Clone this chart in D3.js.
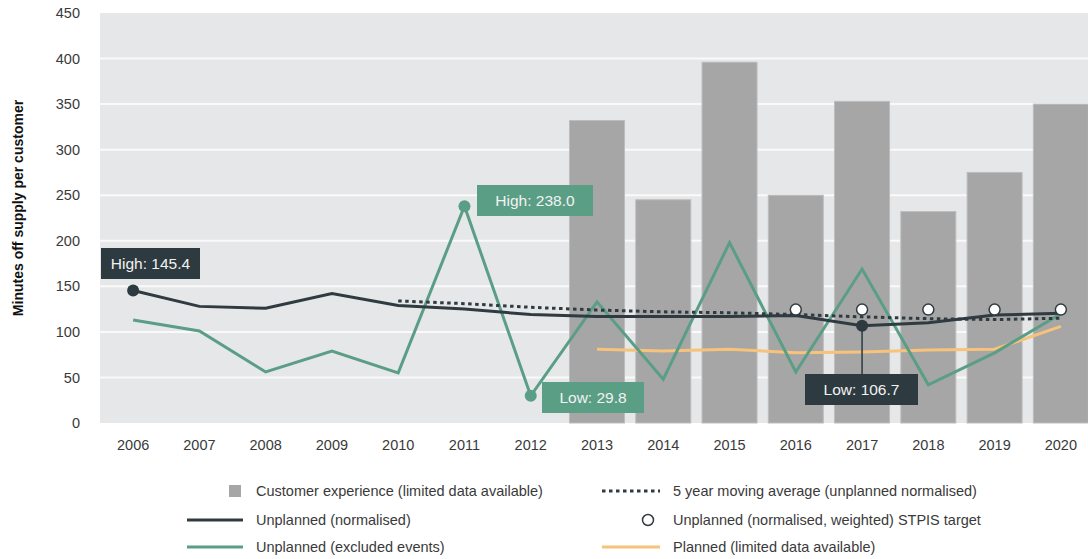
<!DOCTYPE html>
<html>
  <head>
    <title>Minutes off supply per customer</title>
    <script src="https://d3js.org/d3.v7.min.js"></script>
    <style>
      body { margin: 0; background: #fff; font-family: "Liberation Sans", Arial, sans-serif; }
      .tick text { fill: #3a3a3a; font-size: 14.5px; }
      .legend text { fill: #3a3a3a; font-size: 14.5px; }
    </style>
  </head>
  <body>
    <script>
      var width = 1088;
      var height = 559;
      var margin = {top: 13, left: 100, right: -6, bottom: 136};

      var years = ["2006","2007","2008","2009","2010","2011","2012","2013","2014","2015","2016","2017","2018","2019","2020"];
      var yTicks = [0, 50, 100, 150, 200, 250, 300, 350, 400, 450];

      var customerYears = ["2013","2014","2015","2016","2017","2018","2019","2020"];
      var customerExperience = [332, 245, 396, 250, 353, 232, 275, 350];

      var unplannedNormalised = [145.4, 128, 126, 142, 129, 125, 119, 117, 117, 117, 118, 106.7, 110, 118.5, 120.5];

      var movingAvgYears = ["2010","2011","2012","2013","2014","2015","2016","2017","2018","2019","2020"];
      var movingAvg = [134, 131, 127, 124, 122, 121, 119, 116.5, 114.5, 113.5, 115];

      var excludedEvents = [113, 101, 56, 79, 55, 238.0, 29.8, 133, 48, 198, 56, 169, 42, 77, 120];

      var plannedYears = ["2013","2014","2015","2016","2017","2018","2019","2020"];
      var planned = [81, 79, 81, 77, 78, 80, 81, 106];

      var stpisYears = ["2016","2017","2018","2019","2020"];
      var stpis = [124.5, 124.5, 124.5, 124.5, 124.5];

      var svg = d3.select("body")
        .append("svg")
        .attr("width", width)
        .attr("height", height);

      var xScale = d3.scaleBand()
        .domain(years)
        .range([margin.left, width - margin.right])
        .paddingInner(0.17)
        .paddingOuter(0.085);

      var xPos = d3.scalePoint()
        .domain(years)
        .range([margin.left, width - margin.right])
        .padding(0.5);

      var yScale = d3.scaleLinear()
        .domain([0, 450])
        .range([height - margin.bottom, margin.top]);

      // background
      svg.append("rect")
        .attr("x", margin.left)
        .attr("y", margin.top)
        .attr("width", width - margin.left - margin.right)
        .attr("height", height - margin.bottom - margin.top)
        .attr("fill", "#e6e7e9");

      // gridlines
      svg.append("g")
        .selectAll("line")
        .data(yTicks.filter(function(d) { return d > 0 && d < 450; }))
        .enter()
        .append("line")
          .attr("x1", margin.left)
          .attr("x2", width)
          .attr("y1", function(d) { return yScale(d); })
          .attr("y2", function(d) { return yScale(d); })
          .attr("stroke", "#fafafa")
          .attr("stroke-width", 2);

      // bars
      svg.append("g")
        .selectAll("rect")
        .data(customerYears)
        .enter()
        .append("rect")
          .attr("x", function(d) { return xScale(d); })
          .attr("y", function(d, i) { return yScale(customerExperience[i]); })
          .attr("width", xScale.bandwidth())
          .attr("height", function(d, i) { return yScale(0) - yScale(customerExperience[i]); })
          .attr("fill", "#a6a6a6")
          .attr("stroke", "#bdbdbd")
          .attr("stroke-width", 1);

      var yAxis = svg.append("g")
        .attr("transform", "translate(" + (margin.left - 20) + ",0)")
        .call(d3.axisLeft(yScale).tickValues(yTicks).tickSize(0).tickPadding(0));
      yAxis.select(".domain").remove();

      var xAxis = svg.append("g")
        .attr("transform", "translate(0," + (height - margin.bottom) + ")")
        .call(d3.axisBottom(xScale).tickSize(0).tickPadding(17));
      xAxis.select(".domain").remove();

      svg.append("text")
        .attr("transform", "rotate(-90)")
        .attr("x", -208)
        .attr("y", 23)
        .attr("text-anchor", "middle")
        .attr("font-size", 14)
        .attr("font-weight", "bold")
        .attr("fill", "#111")
        .text("Minutes off supply per customer");

      var line = d3.line()
        .x(function(d) { return xPos(d[0]); })
        .y(function(d) { return yScale(d[1]); });

      function pairs(keys, vals) {
        return keys.map(function(k, i) { return [k, vals[i]]; });
      }

      // planned
      svg.append("path")
        .attr("d", line(pairs(plannedYears, planned)))
        .attr("fill", "none")
        .attr("stroke", "#f7c27a")
        .attr("stroke-width", 3);

      // excluded events
      svg.append("path")
        .attr("d", line(pairs(years, excludedEvents)))
        .attr("fill", "none")
        .attr("stroke", "#5b9e86")
        .attr("stroke-width", 3);

      // unplanned normalised
      svg.append("path")
        .attr("d", line(pairs(years, unplannedNormalised)))
        .attr("fill", "none")
        .attr("stroke", "#2f3b40")
        .attr("stroke-width", 3);

      // moving average
      svg.append("path")
        .attr("d", line(pairs(movingAvgYears, movingAvg)))
        .attr("fill", "none")
        .attr("stroke", "#2f3b40")
        .attr("stroke-width", 3)
        .attr("stroke-dasharray", "3.5,3.5");

      // STPIS target
      svg.append("g")
        .selectAll("circle")
        .data(stpisYears)
        .enter()
        .append("circle")
          .attr("cx", function(d) { return xPos(d); })
          .attr("cy", function(d, i) { return yScale(stpis[i]); })
          .attr("r", 5.5)
          .attr("fill", "#fff")
          .attr("stroke", "#2f3b40")
          .attr("stroke-width", 1.5);

      // annotations
      var notes = [
        {year: "2006", value: 145.4, text: "High: 145.4", color: "#2d3a3f", bx: 101, by: 248, bw: 99},
        {year: "2011", value: 238.0, text: "High: 238.0", color: "#5b9e86", bx: 477, by: 185, bw: 116},
        {year: "2012", value: 29.8, text: "Low: 29.8", color: "#5b9e86", bx: 542, by: 382, bw: 102},
        {year: "2017", value: 106.7, text: "Low: 106.7", color: "#2d3a3f", bx: 805, by: 374, bw: 113, stem: true}
      ];

      notes.forEach(function(n) {
        if (n.stem) {
          svg.append("line")
            .attr("x1", xPos(n.year))
            .attr("x2", xPos(n.year))
            .attr("y1", yScale(n.value))
            .attr("y2", n.by)
            .attr("stroke", "#2d3a3f")
            .attr("stroke-width", 1.5);
        }
        svg.append("circle")
          .attr("cx", xPos(n.year))
          .attr("cy", yScale(n.value))
          .attr("r", 6)
          .attr("fill", n.color);
        svg.append("rect")
          .attr("x", n.bx)
          .attr("y", n.by)
          .attr("width", n.bw)
          .attr("height", 31)
          .attr("fill", n.color);
        svg.append("text")
          .attr("x", n.bx + n.bw / 2)
          .attr("y", n.by + 21)
          .attr("text-anchor", "middle")
          .attr("font-size", 15.5)
          .attr("fill", "#f2f2f2")
          .text(n.text);
      });

      // legend
      var legend = svg.append("g").attr("class", "legend");
      var legendItems = [
        {type: "square", x: 229, y: 491, text: "Customer experience (limited data available)"},
        {type: "dotted", x: 602, y: 491, text: "5 year moving average (unplanned normalised)"},
        {type: "dark", x: 187, y: 520, text: "Unplanned (normalised)"},
        {type: "circle", x: 602, y: 520, text: "Unplanned (normalised, weighted) STPIS target"},
        {type: "green", x: 187, y: 547, text: "Unplanned (excluded events)"},
        {type: "orange", x: 602, y: 547, text: "Planned (limited data available)"}
      ];
      legendItems.forEach(function(d) {
        var tx = d.x < 400 ? 256 : 673;
        if (d.type === "square") {
          legend.append("rect").attr("x", 229).attr("y", d.y - 6).attr("width", 12).attr("height", 12).attr("fill", "#a6a6a6");
        } else if (d.type === "circle") {
          legend.append("circle").attr("cx", 648).attr("cy", d.y).attr("r", 5.5)
            .attr("fill", "#fff").attr("stroke", "#2f3b40").attr("stroke-width", 1.5);
        } else {
          var stroke = {dotted: "#2f3b40", dark: "#2f3b40", green: "#5b9e86", orange: "#f7c27a"}[d.type];
          legend.append("line")
            .attr("x1", d.x).attr("x2", d.x < 400 ? 243 : 660)
            .attr("y1", d.y).attr("y2", d.y)
            .attr("stroke", stroke)
            .attr("stroke-width", d.type === "dotted" ? 3 : 3)
            .attr("stroke-dasharray", d.type === "dotted" ? "3.5,3.5" : null);
        }
        legend.append("text")
          .attr("x", tx)
          .attr("y", d.y + 5)
          .text(d.text);
      });
    </script>
  </body>
</html>
